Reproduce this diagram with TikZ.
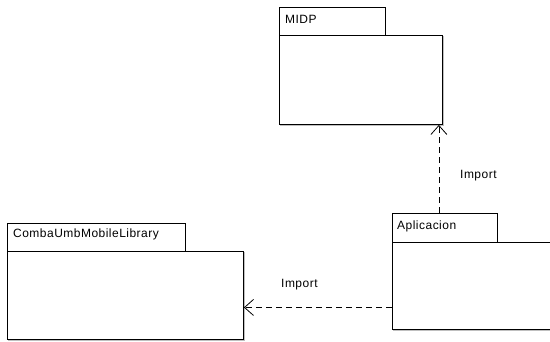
\documentclass[tikz,border=0pt]{standalone}
\usepackage{fontspec}
\setmainfont{Liberation Sans}[LetterSpace=4]
\usetikzlibrary{arrows.meta}
\begin{document}
\begin{tikzpicture}[x=1pt,y=-1pt,
  pkgline/.style={draw=black, line width=0.9pt},
  pkgbody/.style={pkgline, fill=white, inner sep=0pt, anchor=north west},
  pkgtab/.style={pkgline, fill=white, inner sep=0pt, anchor=north west},
  shade/.style={draw=black!25, line width=1.2pt},
  dep/.style={draw=black, line width=0.8pt, dash pattern=on 6pt off 4pt,
    -{Straight Barb[length=9pt,width=16pt,line width=0.8pt]}},
  lbl/.style={font=\fontsize{12}{14}\selectfont, inner sep=0pt, anchor=base west}]
\useasboundingbox (0,0) rectangle (550,341);

% MIDP package
\draw[shade] (280,125) -- (443.5,125) -- (443.5,36);
\node[pkgbody, minimum width=163pt, minimum height=89pt] (midp) at (279,35) {};
\node[pkgtab, minimum width=106pt, minimum height=28pt] (midptab) at (279,7) {};
\node[lbl] (midplbl) at (285,23.5) {MIDP};

% Aplicacion package (runs past the right edge)
\draw[shade] (393,330.5) -- (552,330.5);
\node[pkgbody, minimum width=170pt, minimum height=87pt] (app) at (391.5,242) {};
\node[pkgtab, minimum width=105pt, minimum height=29pt] (apptab) at (391.5,213) {};
\node[lbl] (applbl) at (397,229) {Aplicacion};

% CombaUmbMobileLibrary package
\draw[shade] (8,340.5) -- (244.5,340.5) -- (244.5,252);
\node[pkgbody, minimum width=236pt, minimum height=88pt] (comba) at (7,251) {};
\node[pkgtab, minimum width=178pt, minimum height=28pt] (combatab) at (7,223) {};
\node[lbl] (combalbl) at (13,237) {CombaUmbMobileLibrary};

% import dependencies
\coordinate (midptip) at ([xshift=-4pt]midp.south east);
\coordinate (combatip) at ([yshift=-12pt]comba.east);
\draw[dep] (apptab.north -| midptip) -- (midptip);
\draw[dep] (app.west |- combatip) -- (combatip);
\node[lbl] (imp1) at (460,178.5) {Import};
\node[lbl] (imp2) at (281,287) {Import};
\end{tikzpicture}
\end{document}
